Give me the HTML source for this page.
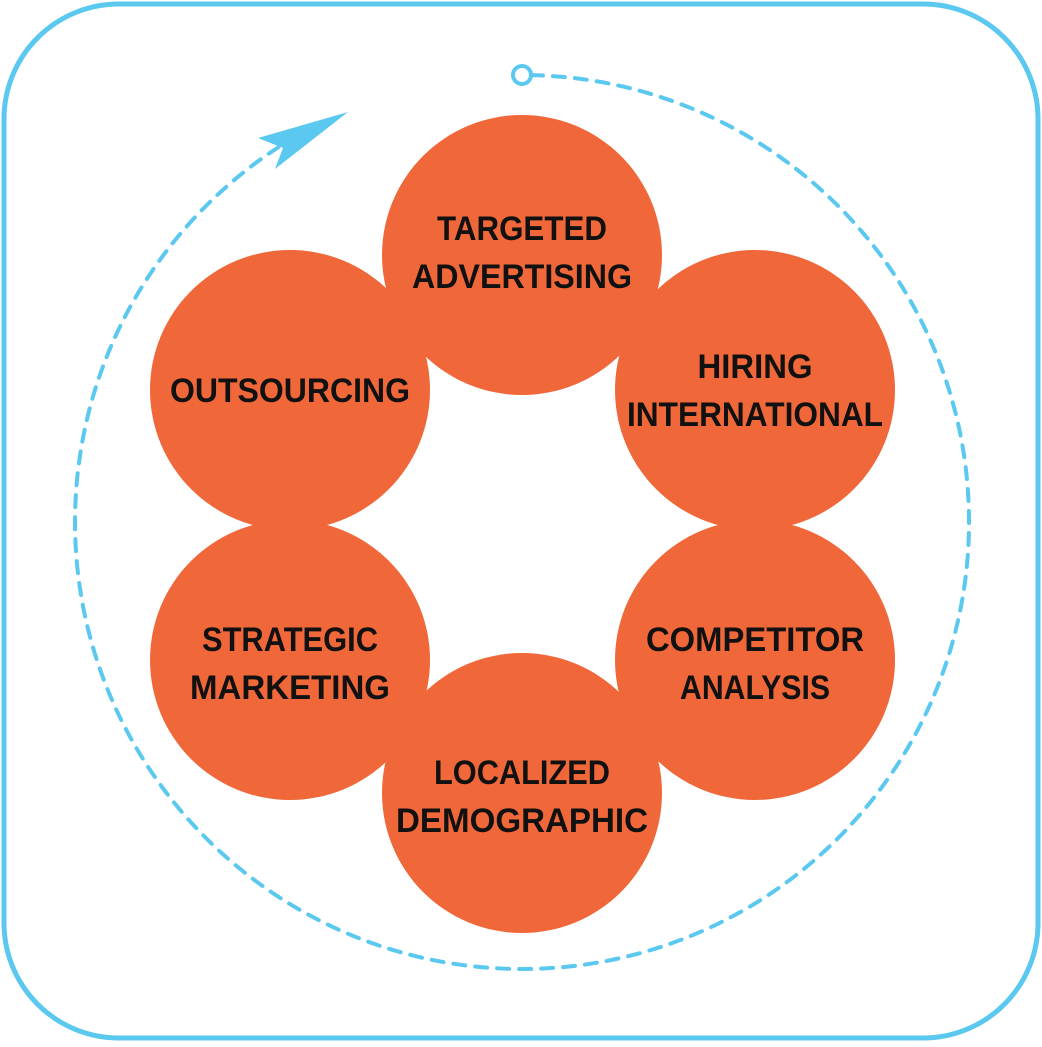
<!DOCTYPE html>
<html><head><style>html,body{margin:0;padding:0;background:#fff}</style></head>
<body>
<svg width="1042" height="1042" viewBox="0 0 1042 1042" xmlns="http://www.w3.org/2000/svg">
<rect x="4" y="4" width="1034" height="1034" rx="115" fill="#fff" stroke="#5bc8ef" stroke-width="5"/>
<path d="M 531 75.1 A 447 447 0 1 1 278.3 147.3" fill="none" stroke="#5bc8ef" stroke-width="4" stroke-dasharray="12,10" stroke-linecap="round"/>
<circle cx="522" cy="75" r="9" fill="#fff" stroke="#5bc8ef" stroke-width="4"/>
<polygon points="348,112 258,138 283,148 275,169" fill="#5bc8ef"/>
<g fill="#f0673a">
<circle cx="522" cy="255" r="140"/>
<circle cx="755" cy="390" r="140"/>
<circle cx="755" cy="660" r="140"/>
<circle cx="522" cy="793" r="140"/>
<circle cx="290" cy="660" r="140"/>
<circle cx="290" cy="390" r="140"/>
</g>
<g font-family="Liberation Sans, sans-serif" font-weight="bold" font-size="34" fill="#111" text-anchor="middle">
<text x="522" y="240" textLength="170" lengthAdjust="spacingAndGlyphs">TARGETED</text>
<text x="522" y="288" textLength="220" lengthAdjust="spacingAndGlyphs">ADVERTISING</text>
<text x="755" y="378" textLength="115" lengthAdjust="spacingAndGlyphs">HIRING</text>
<text x="755" y="426" textLength="256" lengthAdjust="spacingAndGlyphs">INTERNATIONAL</text>
<text x="290" y="402" textLength="240" lengthAdjust="spacingAndGlyphs">OUTSOURCING</text>
<text x="290" y="651" textLength="176" lengthAdjust="spacingAndGlyphs">STRATEGIC</text>
<text x="290" y="699" textLength="200" lengthAdjust="spacingAndGlyphs">MARKETING</text>
<text x="755" y="651" textLength="218" lengthAdjust="spacingAndGlyphs">COMPETITOR</text>
<text x="755" y="699" textLength="150" lengthAdjust="spacingAndGlyphs">ANALYSIS</text>
<text x="522" y="784" textLength="176" lengthAdjust="spacingAndGlyphs">LOCALIZED</text>
<text x="522" y="832" textLength="252" lengthAdjust="spacingAndGlyphs">DEMOGRAPHIC</text>
</g>
</svg>
</body></html>
